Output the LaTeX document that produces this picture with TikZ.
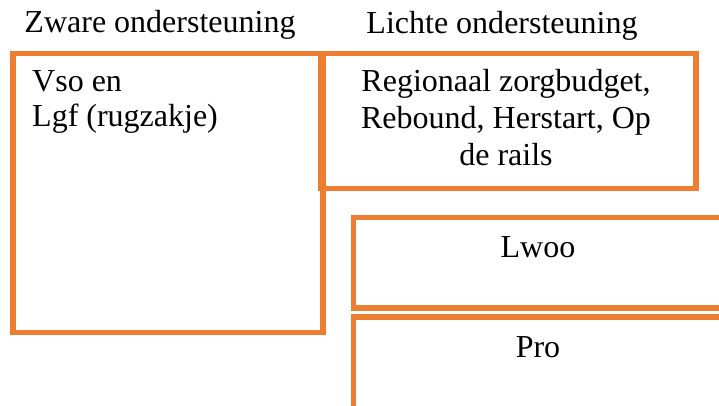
\documentclass[tikz,border=0pt]{standalone}
\usepackage{fontspec}
\setmainfont{Liberation Serif}
\definecolor{boxorange}{RGB}{237,125,49}
\begin{document}
\begin{tikzpicture}[x=1bp,y=-1bp,
  box/.style={draw=boxorange, line width=5.5bp, rectangle, inner sep=0pt, anchor=north west},
  lbl/.style={inner sep=0pt, anchor=base, font=\fontsize{32bp}{36bp}\selectfont, text=black},
  lbll/.style={lbl, anchor=base west}]
\useasboundingbox (0,0) rectangle (719,405);
\clip (0,0) rectangle (719,405);
\fill[white] (0,0) rectangle (719,405);
% boxes
\node[box, minimum width=310bp, minimum height=279bp] (heavy) at (10,50.5) {};
\node[box, minimum width=375bp, minimum height=135bp] (light) at (318,50.5) {};
\node[box, minimum width=376bp, minimum height=90.5bp] (lwoo) at (350.5,214.5) {};
\node[box, minimum width=376bp, minimum height=120bp] (pro) at (350.5,314) {};
% headings
\node[lbl] (hzware) at (160,32.5) {Zware ondersteuning};
\node[lbl] (hlicht) at (502,33.3) {Lichte ondersteuning};
% heavy box text
\node[lbll] (vso) at (32,91.7) {Vso en};
\node[lbll] (lgf) at (32,126.7) {Lgf (rugzakje)};
% light box text
\node[lbl] (reg1) at (506,91.7) {Regionaal zorgbudget,};
\node[lbl] (reg2) at (506,128.3) {Rebound, Herstart, Op};
\node[lbl] (reg3) at (506,165) {de rails};
% lower boxes text
\node[lbl] (tlwoo) at (538,257.7) {Lwoo};
\node[lbl] (tpro) at (538,357.3) {Pro};
\end{tikzpicture}
\end{document}
